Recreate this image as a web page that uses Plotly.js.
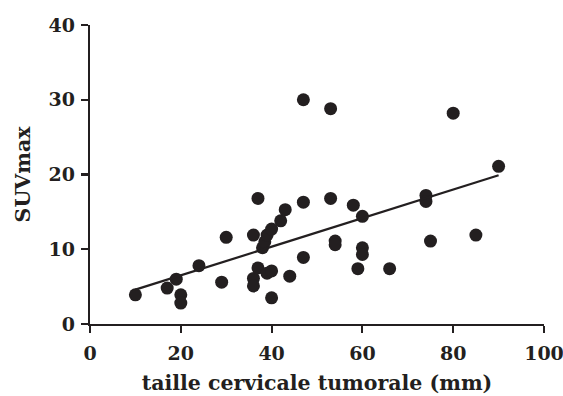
<!DOCTYPE html>
<html>
<head>
<meta charset="utf-8">
<script src="https://cdn.plot.ly/plotly-3.0.1.min.js"></script>
<style>html,body{margin:0;padding:0;background:#fff;}#chart{width:563px;height:396px;}</style>
</head>
<body>
<div id="chart"></div>
<script>
// Data
var tumourSize = [10, 17, 19, 20, 20, 24, 29, 30, 36, 37, 36, 36, 37, 38, 38.5, 39, 40, 39, 40, 40, 42, 43, 44, 47, 47, 47, 53, 53, 54, 54, 58, 59, 60, 60, 60, 66, 74, 74, 75, 80, 85, 90];
var suvMax     = [3.9, 4.8, 6.0, 3.9, 2.8, 7.8, 5.6, 11.6, 11.9, 16.8, 6.1, 5.1, 7.5, 10.2, 11.0, 11.9, 12.7, 6.8, 7.1, 3.5, 13.8, 15.3, 6.4, 16.3, 8.9, 30.0, 28.8, 16.8, 11.1, 10.6, 15.9, 7.4, 14.4, 10.2, 9.3, 7.4, 17.2, 16.4, 11.1, 28.2, 11.9, 21.1];
var fitX = [10, 90];
var fitY = [4.6, 19.9];
var xTicks = [0, 20, 40, 60, 80, 100];
var yTicks = [0, 10, 20, 30, 40];
var xTitle = 'taille cervicale tumorale (mm)';
var yTitle = 'SUVmax';

var ink = '#231f20';
var fam = 'DejaVu Serif';
function bold(s) { return '<b>' + s + '</b>'; }

var traces = [
  {x: tumourSize, y: suvMax, type: 'scatter', mode: 'markers',
   marker: {size: 13, color: ink}, showlegend: false, cliponaxis: false},
  {x: fitX, y: fitY, type: 'scatter', mode: 'lines',
   line: {color: ink, width: 2.2}, showlegend: false}
];

var tf = {family: fam, size: 19, color: ink};

var layout = {
  width: 563, height: 396,
  margin: {l: 90, r: 19, t: 25, b: 72},
  paper_bgcolor: '#fff', plot_bgcolor: '#fff',
  font: tf,
  showlegend: false,
  xaxis: {
    range: [0, 100], tickvals: xTicks, ticktext: xTicks.map(function(v){return bold(v);}),
    showgrid: false, zeroline: false, showline: true, linecolor: ink, linewidth: 2.2,
    ticks: 'outside', ticklen: 7, tickwidth: 2.2, tickcolor: ink,
    ticklabelstandoff: 4, ticklabeloverflow: 'allow',
    tickfont: tf,
    title: {text: bold(xTitle), font: {family: fam, size: 20.5, color: ink}, standoff: 13}
  },
  yaxis: {
    range: [0, 40], tickvals: yTicks, ticktext: yTicks.map(function(v){return bold(v);}),
    showgrid: false, zeroline: false, showline: true, linecolor: ink, linewidth: 2.2,
    ticks: 'outside', ticklen: 7, tickwidth: 2.2, tickcolor: ink,
    ticklabelstandoff: 2, ticklabeloverflow: 'allow',
    tickfont: tf,
    title: {text: bold(yTitle), font: {family: fam, size: 20.5, color: ink}, standoff: 12}
  }
};

Plotly.newPlot('chart', traces, layout, {displayModeBar: false, staticPlot: true});
</script>
</body>
</html>
